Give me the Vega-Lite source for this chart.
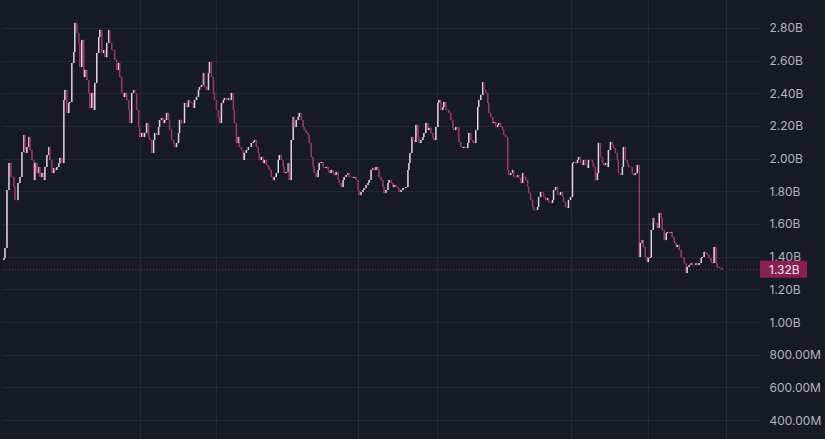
{
  "$schema": "https://vega.github.io/schema/vega-lite/v6.json",
  "width": 825,
  "height": 439,
  "autosize": {"type": "fit", "contains": "padding"},
  "padding": 0,
  "background": "#161a25",
  "config": {
    "view": {"stroke": null},
    "font": "Inter",
    "axisX": {"labels": false, "ticks": false, "domain": false, "title": null, "grid": true, "gridColor": "#252936", "gridWidth": 1, "minExtent": 0, "maxExtent": 0},
    "axisY": {"orient": "right", "title": null, "ticks": false, "domain": false, "grid": true, "gridColor": "#232733", "gridWidth": 1, "labelAlign": "left", "labelBaseline": "middle", "labelPadding": 9, "labelColor": "#b2b5be", "labelFontSize": 12, "minExtent": 65, "maxExtent": 65}
  },
  "datasets": {
    "series": [
      {"t":0,"c":1.380},{"t":2,"c":1.392},{"t":3,"c":1.453},{"t":5,"c":1.808},{"t":7,"c":1.973},{"t":9,"c":1.888},{"t":12,"c":1.827},{"t":13,"c":1.747},{"t":16,"c":1.851},{"t":18,"c":1.888},
      {"t":20,"c":2.041},{"t":22,"c":2.145},{"t":23,"c":2.035},{"t":25,"c":2.071},{"t":27,"c":2.133},{"t":28,"c":2.053},{"t":30,"c":1.992},{"t":32,"c":1.869},{"t":33,"c":1.973},{"t":35,"c":1.912},
      {"t":37,"c":1.949},{"t":38,"c":1.888},{"t":40,"c":1.912},{"t":42,"c":1.869},{"t":43,"c":1.949},{"t":45,"c":2.022},{"t":47,"c":2.071},{"t":48,"c":1.992},{"t":50,"c":1.912},{"t":52,"c":1.943},
      {"t":53,"c":1.931},{"t":55,"c":1.949},{"t":57,"c":1.973},{"t":58,"c":2.004},{"t":60,"c":1.973},{"t":62,"c":2.359},{"t":63,"c":2.420},{"t":65,"c":2.280},{"t":67,"c":2.341},{"t":68,"c":2.347},
      {"t":70,"c":2.586},{"t":72,"c":2.653},{"t":73,"c":2.831},{"t":75,"c":2.769},{"t":77,"c":2.708},{"t":78,"c":2.561},{"t":80,"c":2.727},{"t":82,"c":2.500},{"t":83,"c":2.543},{"t":85,"c":2.482},
      {"t":87,"c":2.402},{"t":88,"c":2.310},{"t":90,"c":2.402},{"t":92,"c":2.298},{"t":93,"c":2.463},{"t":95,"c":2.647},{"t":97,"c":2.745},{"t":98,"c":2.788},{"t":100,"c":2.647},{"t":102,"c":2.665},
      {"t":103,"c":2.622},{"t":105,"c":2.708},{"t":107,"c":2.788},{"t":108,"c":2.708},{"t":110,"c":2.665},{"t":113,"c":2.604},{"t":115,"c":2.543},{"t":117,"c":2.586},{"t":118,"c":2.500},{"t":120,"c":2.402},
      {"t":122,"c":2.378},{"t":123,"c":2.402},{"t":125,"c":2.359},{"t":127,"c":2.298},{"t":128,"c":2.218},{"t":130,"c":2.402},{"t":132,"c":2.420},{"t":133,"c":2.402},{"t":135,"c":2.298},{"t":137,"c":2.194},
      {"t":138,"c":2.133},{"t":140,"c":2.157},{"t":142,"c":2.133},{"t":143,"c":2.157},{"t":145,"c":2.218},{"t":147,"c":2.133},{"t":148,"c":2.114},{"t":150,"c":2.035},{"t":152,"c":2.114},{"t":153,"c":2.157},
      {"t":155,"c":2.145},{"t":157,"c":2.194},{"t":158,"c":2.237},{"t":160,"c":2.249},{"t":162,"c":2.218},{"t":163,"c":2.237},{"t":165,"c":2.280},{"t":167,"c":2.237},{"t":168,"c":2.176},{"t":170,"c":2.114},
      {"t":172,"c":2.096},{"t":173,"c":2.071},{"t":175,"c":2.096},{"t":177,"c":2.157},{"t":178,"c":2.237},{"t":180,"c":2.218},{"t":182,"c":2.218},{"t":183,"c":2.341},{"t":185,"c":2.316},{"t":187,"c":2.359},
      {"t":188,"c":2.347},{"t":190,"c":2.341},{"t":192,"c":2.310},{"t":193,"c":2.359},{"t":195,"c":2.378},{"t":197,"c":2.420},{"t":198,"c":2.439},{"t":200,"c":2.451},{"t":202,"c":2.524},{"t":203,"c":2.439},
      {"t":205,"c":2.420},{"t":207,"c":2.524},{"t":208,"c":2.592},{"t":210,"c":2.500},{"t":212,"c":2.402},{"t":213,"c":2.359},{"t":215,"c":2.298},{"t":217,"c":2.255},{"t":218,"c":2.218},{"t":220,"c":2.341},
      {"t":222,"c":2.359},{"t":223,"c":2.371},{"t":225,"c":2.359},{"t":227,"c":2.371},{"t":228,"c":2.359},{"t":230,"c":2.402},{"t":232,"c":2.298},{"t":233,"c":2.218},{"t":235,"c":2.096},{"t":237,"c":2.133},
      {"t":238,"c":2.071},{"t":240,"c":2.053},{"t":242,"c":1.992},{"t":243,"c":2.035},{"t":245,"c":2.053},{"t":247,"c":2.071},{"t":248,"c":2.071},{"t":250,"c":2.096},{"t":252,"c":2.102},{"t":253,"c":2.114},
      {"t":255,"c":2.071},{"t":257,"c":2.035},{"t":258,"c":1.992},{"t":260,"c":2.010},{"t":262,"c":1.973},{"t":263,"c":1.992},{"t":265,"c":1.961},{"t":267,"c":1.949},{"t":268,"c":1.931},{"t":270,"c":1.888},
      {"t":272,"c":1.869},{"t":273,"c":1.888},{"t":275,"c":1.912},{"t":277,"c":1.992},{"t":278,"c":2.022},{"t":280,"c":1.992},{"t":282,"c":1.949},{"t":283,"c":1.912},{"t":285,"c":1.918},{"t":287,"c":1.973},
      {"t":288,"c":1.869},{"t":290,"c":2.114},{"t":292,"c":2.255},{"t":293,"c":2.194},{"t":295,"c":2.237},{"t":297,"c":2.255},{"t":298,"c":2.280},{"t":300,"c":2.237},{"t":302,"c":2.194},{"t":303,"c":2.176},
      {"t":305,"c":2.157},{"t":307,"c":2.145},{"t":308,"c":2.096},{"t":310,"c":2.010},{"t":312,"c":1.949},{"t":313,"c":1.912},{"t":315,"c":1.888},{"t":317,"c":1.931},{"t":318,"c":1.973},{"t":320,"c":1.980},
      {"t":322,"c":1.949},{"t":323,"c":1.943},{"t":325,"c":1.949},{"t":327,"c":1.931},{"t":328,"c":1.912},{"t":330,"c":1.931},{"t":332,"c":1.912},{"t":333,"c":1.900},{"t":335,"c":1.918},{"t":337,"c":1.869},
      {"t":338,"c":1.851},{"t":340,"c":1.827},{"t":342,"c":1.869},{"t":343,"c":1.888},{"t":345,"c":1.900},{"t":347,"c":1.912},{"t":348,"c":1.888},{"t":350,"c":1.888},{"t":352,"c":1.882},{"t":353,"c":1.888},
      {"t":355,"c":1.869},{"t":357,"c":1.808},{"t":358,"c":1.778},{"t":360,"c":1.796},{"t":362,"c":1.808},{"t":363,"c":1.820},{"t":365,"c":1.839},{"t":367,"c":1.851},{"t":368,"c":1.869},{"t":370,"c":1.931},
      {"t":372,"c":1.943},{"t":373,"c":1.931},{"t":375,"c":1.949},{"t":377,"c":1.931},{"t":378,"c":1.888},{"t":380,"c":1.869},{"t":382,"c":1.827},{"t":383,"c":1.790},{"t":385,"c":1.808},{"t":387,"c":1.851},
      {"t":388,"c":1.869},{"t":390,"c":1.851},{"t":392,"c":1.827},{"t":393,"c":1.839},{"t":395,"c":1.827},{"t":397,"c":1.820},{"t":398,"c":1.796},{"t":400,"c":1.808},{"t":402,"c":1.820},{"t":403,"c":1.820},
      {"t":405,"c":1.827},{"t":407,"c":1.931},{"t":408,"c":1.973},{"t":409,"c":2.035},{"t":411,"c":2.133},{"t":412,"c":2.114},{"t":414,"c":2.102},{"t":415,"c":2.206},{"t":417,"c":2.133},{"t":418,"c":2.096},
      {"t":420,"c":2.114},{"t":422,"c":2.133},{"t":423,"c":2.157},{"t":425,"c":2.218},{"t":427,"c":2.176},{"t":428,"c":2.188},{"t":430,"c":2.157},{"t":432,"c":2.127},{"t":433,"c":2.114},{"t":435,"c":2.194},
      {"t":437,"c":2.341},{"t":438,"c":2.359},{"t":440,"c":2.298},{"t":442,"c":2.316},{"t":443,"c":2.347},{"t":445,"c":2.298},{"t":447,"c":2.298},{"t":448,"c":2.280},{"t":450,"c":2.237},{"t":452,"c":2.188},
      {"t":453,"c":2.176},{"t":455,"c":2.194},{"t":457,"c":2.194},{"t":458,"c":2.102},{"t":460,"c":2.071},{"t":462,"c":2.065},{"t":463,"c":2.071},{"t":465,"c":2.065},{"t":467,"c":2.096},{"t":468,"c":2.157},
      {"t":470,"c":2.114},{"t":472,"c":2.102},{"t":473,"c":2.096},{"t":475,"c":2.176},{"t":477,"c":2.316},{"t":478,"c":2.359},{"t":480,"c":2.390},{"t":482,"c":2.469},{"t":483,"c":2.420},{"t":485,"c":2.402},
      {"t":487,"c":2.341},{"t":488,"c":2.280},{"t":490,"c":2.255},{"t":492,"c":2.218},{"t":493,"c":2.225},{"t":495,"c":2.194},{"t":497,"c":2.206},{"t":498,"c":2.218},{"t":500,"c":2.194},{"t":502,"c":2.176},
      {"t":503,"c":2.145},{"t":505,"c":2.133},{"t":507,"c":1.931},{"t":508,"c":1.900},{"t":510,"c":1.912},{"t":512,"c":1.931},{"t":513,"c":1.888},{"t":515,"c":1.888},{"t":517,"c":1.900},{"t":518,"c":1.882},
      {"t":520,"c":1.851},{"t":522,"c":1.912},{"t":523,"c":1.888},{"t":525,"c":1.869},{"t":527,"c":1.827},{"t":528,"c":1.790},{"t":530,"c":1.747},{"t":532,"c":1.704},{"t":533,"c":1.686},{"t":535,"c":1.686},
      {"t":537,"c":1.704},{"t":538,"c":1.765},{"t":540,"c":1.796},{"t":542,"c":1.790},{"t":543,"c":1.765},{"t":545,"c":1.747},{"t":547,"c":1.759},{"t":548,"c":1.735},{"t":550,"c":1.729},{"t":552,"c":1.747},
      {"t":553,"c":1.808},{"t":555,"c":1.827},{"t":557,"c":1.778},{"t":558,"c":1.778},{"t":560,"c":1.796},{"t":562,"c":1.765},{"t":563,"c":1.735},{"t":565,"c":1.704},{"t":567,"c":1.698},{"t":568,"c":1.747},
      {"t":570,"c":1.765},{"t":572,"c":1.973},{"t":573,"c":1.980},{"t":575,"c":1.973},{"t":577,"c":1.992},{"t":578,"c":2.010},{"t":580,"c":1.973},{"t":582,"c":1.961},{"t":583,"c":1.992},{"t":585,"c":1.961},
      {"t":587,"c":1.943},{"t":588,"c":1.992},{"t":590,"c":1.992},{"t":592,"c":1.973},{"t":593,"c":1.949},{"t":595,"c":1.869},{"t":597,"c":1.912},{"t":598,"c":2.096},{"t":600,"c":2.010},{"t":602,"c":1.973},
      {"t":603,"c":1.961},{"t":605,"c":1.973},{"t":607,"c":1.949},{"t":608,"c":2.053},{"t":610,"c":2.102},{"t":612,"c":2.084},{"t":613,"c":2.065},{"t":615,"c":2.035},{"t":617,"c":1.992},{"t":618,"c":1.912},
      {"t":620,"c":1.900},{"t":622,"c":1.949},{"t":623,"c":2.071},{"t":625,"c":1.992},{"t":627,"c":1.973},{"t":628,"c":1.949},{"t":630,"c":1.949},{"t":632,"c":1.912},{"t":633,"c":1.900},{"t":635,"c":1.912},
      {"t":637,"c":1.961},{"t":639,"c":1.398},{"t":640,"c":1.484},{"t":642,"c":1.502},{"t":643,"c":1.459},{"t":645,"c":1.398},{"t":647,"c":1.367},{"t":648,"c":1.392},{"t":650,"c":1.398},{"t":651,"c":1.563},
      {"t":653,"c":1.637},{"t":654,"c":1.606},{"t":656,"c":1.606},{"t":657,"c":1.576},{"t":659,"c":1.667},{"t":661,"c":1.637},{"t":662,"c":1.563},{"t":664,"c":1.502},{"t":666,"c":1.545},{"t":667,"c":1.551},
      {"t":669,"c":1.545},{"t":671,"c":1.551},{"t":672,"c":1.520},{"t":674,"c":1.484},{"t":676,"c":1.459},{"t":677,"c":1.471},{"t":679,"c":1.441},{"t":681,"c":1.398},{"t":682,"c":1.392},{"t":684,"c":1.361},
      {"t":686,"c":1.300},{"t":687,"c":1.337},{"t":689,"c":1.349},{"t":691,"c":1.361},{"t":692,"c":1.349},{"t":694,"c":1.349},{"t":696,"c":1.361},{"t":697,"c":1.349},{"t":699,"c":1.361},{"t":701,"c":1.392},
      {"t":702,"c":1.398},{"t":704,"c":1.429},{"t":706,"c":1.422},{"t":707,"c":1.410},{"t":709,"c":1.392},{"t":711,"c":1.367},{"t":712,"c":1.361},{"t":714,"c":1.459},{"t":716,"c":1.361},{"t":717,"c":1.337},
      {"t":719,"c":1.331},{"t":721,"c":1.331},{"t":722,"c":1.320}
    ],
    "last": [{"price": 1.32, "label": "1.32B"}]
  },
  "layer": [
    {
      "data": {"name": "series"},
      "mark": {"type": "line", "interpolate": "step-after", "color": "#6e2a48", "strokeWidth": 1},
      "encoding": {
        "x": {"field": "t", "type": "quantitative", "scale": {"domain": [0, 760], "nice": false, "zero": false},
              "axis": {"values": [138, 215, 357, 436, 570, 648, 726], "tickCount": 30}},
        "y": {"field": "c", "type": "quantitative", "scale": {"domain": [0.2837, 2.9714], "nice": false, "zero": false},
              "axis": {"values": [0.4, 0.6, 0.8, 1.0, 1.2, 1.4, 1.6, 1.8, 2.0, 2.2, 2.4, 2.6, 2.8], "tickCount": 30,
                       "labelOverlap": false, "labelBound": false, "labelFlush": false,
                       "labelExpr": "datum.value >= 1 ? format(datum.value, '.2f') + 'B' : format(datum.value * 1000, '.2f') + 'M'"}}
      }
    },
    {
      "data": {"name": "last"},
      "mark": {"type": "rule", "color": "#8e2855", "strokeWidth": 1, "strokeDash": [1, 2]},
      "encoding": {"y": {"field": "price", "type": "quantitative"}}
    },
    {
      "data": {"name": "series"},
      "transform": [
        {"window": [{"op": "lag", "field": "c", "as": "o"}], "sort": [{"field": "t"}]},
        {"filter": "datum.o != null"}
      ],
      "mark": {"type": "rule", "strokeWidth": 1.5},
      "encoding": {
        "x": {"field": "t", "type": "quantitative"},
        "y": {"field": "o", "type": "quantitative"},
        "y2": {"field": "c"},
        "color": {"condition": {"test": "datum.c >= datum.o", "value": "#dcd5de"}, "value": "#9a3862"}
      }
    },
    {
      "data": {"name": "last"},
      "mark": {"type": "rect", "color": "#8a1f55", "yOffset": -9, "y2Offset": 8, "x2Offset": 47, "cornerRadius": 1},
      "encoding": {
        "x": {"datum": 760, "type": "quantitative"},
        "x2": {"datum": 760},
        "y": {"field": "price", "type": "quantitative"},
        "y2": {"field": "price"}
      }
    },
    {
      "data": {"name": "last"},
      "mark": {"type": "text", "align": "left", "baseline": "middle", "dx": 9, "fontSize": 12, "color": "#efe4ea", "font": "Inter"},
      "encoding": {
        "x": {"datum": 760, "type": "quantitative"},
        "y": {"field": "price", "type": "quantitative"},
        "text": {"field": "label"}
      }
    }
  ]
}
